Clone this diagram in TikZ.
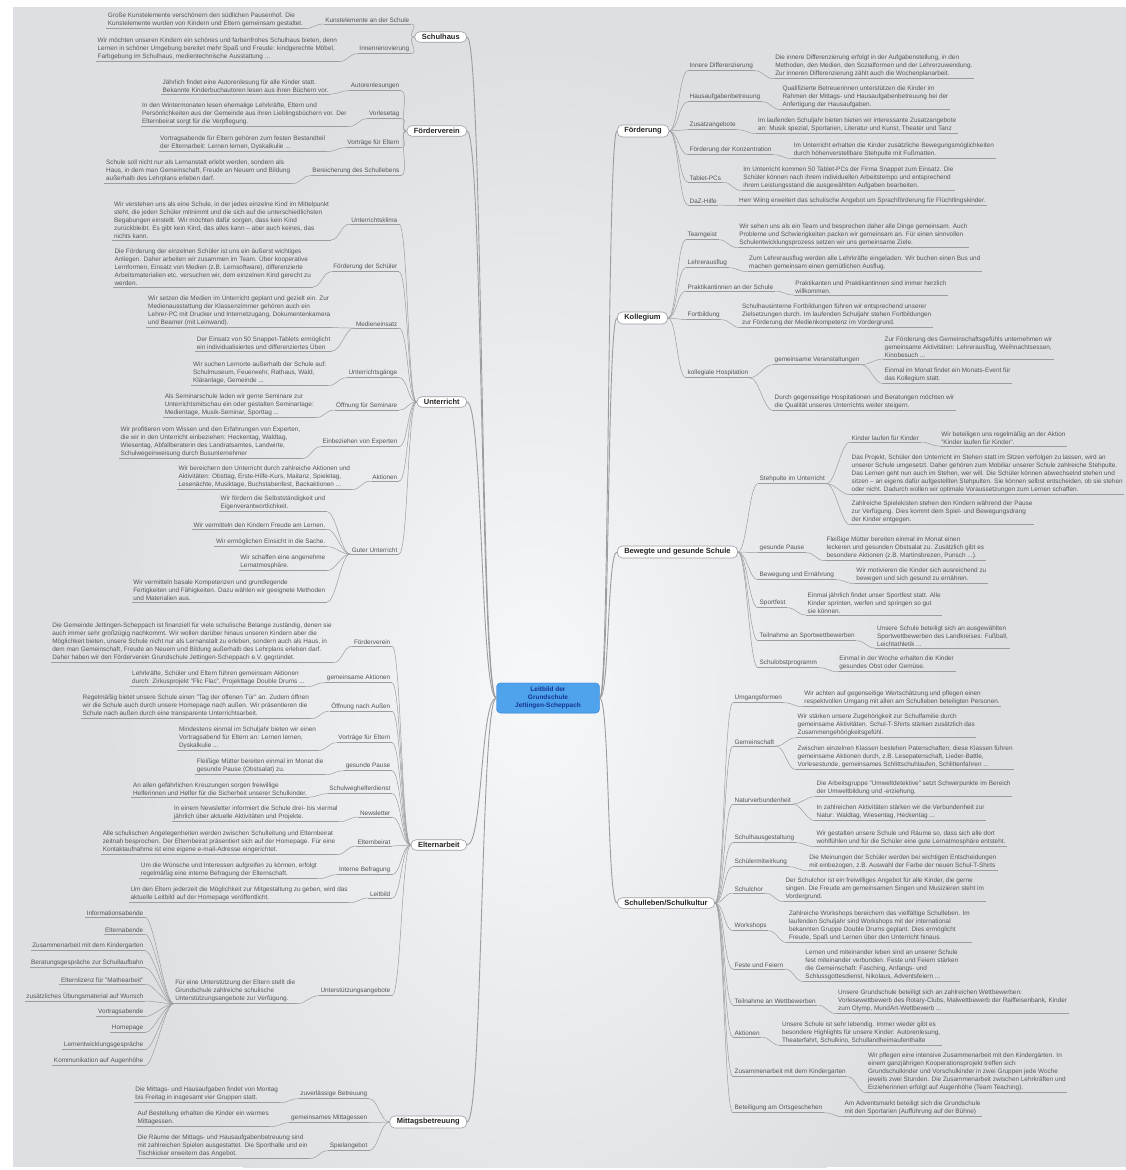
\documentclass[tikz,border=0pt]{standalone}
\usepackage{fontspec}
\setmainfont{Liberation Sans}
\usetikzlibrary{positioning}
\definecolor{bgC}{RGB}{221,223,227}
\definecolor{glowC}{RGB}{247,248,249}
\definecolor{lineC}{RGB}{155,157,161}
\definecolor{txtC}{RGB}{85,85,85}
\definecolor{leitC}{RGB}{78,163,236}
\definecolor{leitD}{RGB}{40,118,205}
\definecolor{leitT}{RGB}{22,52,150}
\begin{document}
\begin{tikzpicture}[x=1pt, y=-1pt,
  topic/.style={draw=lineC, fill=white, rounded corners=5pt, line width=0.6pt, text={black!85},
    font=\fontsize{7.5}{9}\selectfont\bfseries, inner xsep=7pt, inner ysep=2.5pt},
  leit/.style={draw=leitD, fill=leitC, rounded corners=4pt, text=leitT, align=center,
    font=\fontsize{6.5}{8}\selectfont\bfseries, minimum width=103pt, inner ysep=4pt},
  uline/.style={draw=lineC, line width=0.5pt},
  sub/.style={font=\fontsize{6.4}{8}\selectfont, text=txtC, inner sep=1.5pt, align=left,
    append after command={(\tikzlastnode.south west) edge[uline] (\tikzlastnode.south east)}},
  ll/.style={sub, anchor=east},
  rl/.style={sub, anchor=west},
  lcurve/.style={uline, to path={.. controls ([xshift=-9pt]\tikztostart) and ([xshift=9pt]\tikztotarget) .. (\tikztotarget)}},
  rcurve/.style={uline, to path={.. controls ([xshift=9pt]\tikztostart) and ([xshift=-9pt]\tikztotarget) .. (\tikztotarget)}},
  mainl/.style={draw=lineC, line width=0.9pt, to path={.. controls ([xshift=-16pt]\tikztostart) and ([xshift=16pt]\tikztotarget) .. (\tikztotarget)}},
  mainr/.style={draw=lineC, line width=0.9pt, to path={.. controls ([xshift=10pt]\tikztostart) and ([xshift=-10pt]\tikztotarget) .. (\tikztotarget)}}]
	\useasboundingbox (0,0) rectangle (1126,1170);
	\fill[white] (0,0) rectangle (1126,1170);
	\fill[bgC] (13,7) rectangle (1126,1167);
	\begin{scope}
		\clip (13,7) rectangle (1126,1167);
		\shade[inner color=glowC, outer color=bgC] (535,690) ellipse [x radius=430pt, y radius=650pt];
	\end{scope}
	
	\node[leit] (leit) at (548,698) {Leitbild der\\Grundschule\\Jettingen-Scheppach};
	
	\node[topic, anchor=east] (sh) at (467,37) {Schulhaus};
	\node[topic, anchor=east] (fv) at (467,131) {Förderverein};
	\node[topic, anchor=east] (ut) at (467,402) {Unterricht};
	\node[topic, anchor=east] (ea) at (467,845) {Elternarbeit};
	\node[topic, anchor=east] (mb) at (467,1122) {Mittagsbetreuung};
	\node[topic, anchor=west] (fd) at (617,131) {Förderung};
	\node[topic, anchor=west] (ko) at (617,318) {Kollegium};
	\node[topic, anchor=west] (bg) at (617,552) {Bewegte und gesunde Schule};
	\node[topic, anchor=west] (sl) at (617,903) {Schulleben/Schulkultur};
	
	% Schulhaus
	\node[ll] (sh1) at (411,20) {Kunstelemente an der Schule};
	\node[sub, left=19pt of sh1] (dsh1) {Große Kunstelemente verschönern den südlichen Pausenhof. Die\\Kunstelemente wurden von Kindern und Eltern gemeinsam gestaltet.};
	\node[ll] (sh2) at (411,49) {Innenrenovierung};
	\node[sub, left=19pt of sh2] (dsh2) {Wir möchten unseren Kindern ein schönes und farbenfrohes Schulhaus bieten, denn\\Lernen in schöner Umgebung bereitet mehr Spaß und Freude: kindgerechte Möbel,\\Farbgebung im Schulhaus, medientechnische Ausstattung ...};
	
	% Foerderverein
	\node[ll] (fv1) at (401,86) {Autorenlesungen};
	\node[sub, left=19pt of fv1] (dfv1) {Jährlich findet eine Autorenlesung für alle Kinder statt.\\Bekannte Kinderbuchautoren lesen aus ihren Büchern vor.};
	\node[ll] (fv2) at (401,114) {Vorlesetag};
	\node[sub, left=19pt of fv2] (dfv2) {In den Wintermonaten lesen ehemalige Lehrkräfte, Eltern und\\Persönlichkeiten aus der Gemeinde aus ihren Lieblingsbüchern vor. Der\\Elternbeirat sorgt für die Verpflegung.};
	\node[ll] (fv3) at (401,143) {Vorträge für Eltern};
	\node[sub, left=19pt of fv3] (dfv3) {Vortragsabende für Eltern gehören zum festen Bestandteil\\der Elternarbeit: Lernen lernen, Dyskalkulie ...};
	\node[ll] (fv4) at (401,171) {Bereicherung des Schullebens};
	\node[sub, left=19pt of fv4] (dfv4) {Schule soll nicht nur als Lernanstalt erlebt werden, sondern als\\Haus, in dem man Gemeinschaft, Freude an Neuem und Bildung\\außerhalb des Lehrplans erleben darf.};
	
	% Unterricht
	\node[ll] (ut1) at (399,220) {Unterrichtsklima};
	\node[sub, left=19pt of ut1] (dut1) {Wir verstehen uns als eine Schule, in der jedes einzelne Kind im Mittelpunkt\\steht, die jeden Schüler mitnimmt und die sich auf die unterschiedlichsten\\Begabungen einstellt. Wir möchten dafür sorgen, dass kein Kind\\zurückbleibt. Es gibt kein Kind, das alles kann – aber auch keines, das\\nichts kann.};
	\node[ll] (ut2) at (399,267) {Förderung der Schüler};
	\node[sub, left=19pt of ut2] (dut2) {Die Förderung der einzelnen Schüler ist uns ein äußerst wichtiges\\Anliegen. Daher arbeiten wir zusammen im Team. Über kooperative\\Lernformen, Einsatz von Medien (z.B. Lernsoftware), differenzierte\\Arbeitsmaterialien etc. versuchen wir, dem einzelnen Kind gerecht zu\\werden.};
	\node[ll] (ut3) at (399,324) {Medieneinsatz};
	\node[ll] (dut3a) at (332,311) {Wir setzen die Medien im Unterricht geplant und gezielt ein. Zur\\Medienausstattung der Klassenzimmer gehören auch ein\\Lehrer-PC mit Drucker und Internetzugang, Dokumentenkamera\\und Beamer (mit Leinwand).};
	\node[ll] (dut3b) at (332,343) {Der Einsatz von 50 Snappet-Tablets ermöglicht\\ein individualisiertes und differenziertes Üben};
	\node[ll] (ut4) at (399,373) {Unterrichtsgänge};
	\node[sub, left=19pt of ut4] (dut4) {Wir suchen Lernorte außerhalb der Schule auf:\\Schulmuseum, Feuerwehr, Rathaus, Wald,\\Kläranlage, Gemeinde ...};
	\node[ll] (ut5) at (399,405) {Öffnung für Seminare};
	\node[sub, left=19pt of ut5] (dut5) {Als Seminarschule laden wir gerne Seminare zur\\Unterrichtsmitschau ein oder gestalten Seminartage:\\Medientage, Musik-Seminar, Sporttag ...};
	\node[ll] (ut6) at (399,442) {Einbeziehen von Experten};
	\node[sub, left=19pt of ut6] (dut6) {Wir profitieren vom Wissen und den Erfahrungen von Experten,\\die wir in den Unterricht einbeziehen: Heckentag, Waldtag,\\Wiesentag, Abfallberaterin des Landratsamtes, Landwirte,\\Schulwegeinweisung durch Busunternehmer};
	\node[ll] (ut7) at (399,477) {Aktionen};
	\node[sub, left=19pt of ut7] (dut7) {Wir bereichern den Unterricht durch zahlreiche Aktionen und\\Aktivitäten: Obsttag, Erste-Hilfe-Kurs, Maitanz, Spieletag,\\Lesenächte, Musiktage, Buchstabenfest, Backaktionen ...};
	\node[ll] (ut8) at (399,550) {Guter Unterricht};
	\node[ll] (dut8a) at (327,503) {Wir fördern die Selbstständigkeit und\\Eigenverantwortlichkeit.};
	\node[ll] (dut8b) at (327,525) {Wir vermitteln den Kindern Freude am Lernen.};
	\node[ll] (dut8c) at (327,542) {Wir ermöglichen Einsicht in die Sache.};
	\node[ll] (dut8d) at (327,562) {Wir schaffen eine angenehme\\Lernatmosphäre.};
	\node[ll] (dut8e) at (327,590) {Wir vermitteln basale Kompetenzen und grundlegende\\Fertigkeiten und Fähigkeiten. Dazu wählen wir geeignete Methoden\\und Materialien aus.};
	
	% Elternarbeit
	\node[ll] (ea1) at (392,642) {Förderverein};
	\node[sub, left=19pt of ea1] (dea1) {Die Gemeinde Jettingen-Scheppach ist finanziell für viele schulische Belange zuständig, denen sie\\auch immer sehr großzügig nachkommt. Wir wollen darüber hinaus unseren Kindern aber die\\Möglichkeit bieten, unsere Schule nicht nur als Lernanstalt zu erleben, sondern auch als Haus, in\\dem man Gemeinschaft, Freude an Neuem und Bildung außerhalb des Lehrplans erleben darf.\\Daher haben wir den Förderverein Grundschule Jettingen-Scheppach e.V. gegründet.};
	\node[ll] (ea2) at (392,678) {gemeinsame Aktionen};
	\node[sub, left=19pt of ea2] (dea2) {Lehrkräfte, Schüler und Eltern führen gemeinsam Aktionen\\durch: Zirkusprojekt "Flic Flac", Projekttage Double Drums ...};
	\node[ll] (ea3) at (392,706) {Öffnung nach Außen};
	\node[sub, left=19pt of ea3] (dea3) {Regelmäßig bietet unsere Schule einen "Tag der offenen Tür" an. Zudem öffnen\\wir die Schule auch durch unsere Homepage nach außen. Wir präsentieren die\\Schule nach außen durch eine transparente Unterrichtsarbeit.};
	\node[ll] (ea4) at (392,738) {Vorträge für Eltern};
	\node[sub, left=19pt of ea4] (dea4) {Mindestens einmal im Schuljahr bieten wir einen\\Vortragsabend für Eltern an: Lernen lernen,\\Dyskalkulie ...};
	\node[ll] (ea5) at (392,766) {gesunde Pause};
	\node[sub, left=19pt of ea5] (dea5) {Fleißige Mütter bereiten einmal im Monat die\\gesunde Pause (Obstsalat) zu.};
	\node[ll] (ea6) at (392,789) {Schulweghelferdienst};
	\node[sub, left=19pt of ea6] (dea6) {An allen gefährlichen Kreuzungen sorgen freiwillige\\Helferinnen und Helfer für die Sicherheit unserer Schulkinder.};
	\node[ll] (ea7) at (392,813) {Newsletter};
	\node[sub, left=19pt of ea7] (dea7) {In einem Newsletter informiert die Schule drei- bis viermal\\jährlich über aktuelle Aktivitäten und Projekte.};
	\node[ll] (ea8) at (392,842) {Elternbeirat};
	\node[sub, left=19pt of ea8] (dea8) {Alle schulischen Angelegenheiten werden zwischen Schulleitung und Elternbeirat\\zeitnah besprochen. Der Elternbeirat präsentiert sich auf der Homepage. Für eine\\Kontaktaufnahme ist eine eigene e-mail-Adresse eingerichtet.};
	\node[ll] (ea9) at (392,870) {Interne Befragung};
	\node[sub, left=19pt of ea9] (dea9) {Um die Wünsche und Interessen aufgreifen zu können, erfolgt\\regelmäßig eine interne Befragung der Elternschaft.};
	\node[ll] (ea10) at (392,894) {Leitbild};
	\node[sub, left=19pt of ea10] (dea10) {Um den Eltern jederzeit die Möglichkeit zur Mitgestaltung zu geben, wird das\\aktuelle Leitbild auf der Homepage veröffentlicht.};
	\node[ll] (ea11) at (392,991) {Unterstützungsangebote};
	\node[sub, left=22pt of ea11] (dea11) {Für eine Unterstützung der Eltern stellt die\\Grundschule zahlreiche schulische\\Unterstützungsangebote zur Verfügung.};
	\node[ll] (ua1) at (145,913) {Informationsabende};
	\node[ll] (ua2) at (145,930) {Elternabende};
	\node[ll] (ua3) at (145,946) {Zusammenarbeit mit dem Kindergarten};
	\node[ll] (ua4) at (145,963) {Beratungsgespräche zur Schullaufbahn};
	\node[ll] (ua5) at (145,980) {Elternlizenz für "Mathearbeit"};
	\node[ll] (ua6) at (145,996) {zusätzliches Übungsmaterial auf Wunsch};
	\node[ll] (ua7) at (145,1012) {Vortragsabende};
	\node[ll] (ua8) at (145,1028) {Homepage};
	\node[ll] (ua9) at (145,1045) {Lernentwicklungsgespräche};
	\node[ll] (ua10) at (145,1061) {Kommunikation auf Augenhöhe};
	
	% Mittagsbetreuung
	\node[ll] (mb1) at (369,1094) {zuverlässige Betreuung};
	\node[sub, left=19pt of mb1] (dmb1) {Die Mittags- und Hausaufgaben findet von Montag\\bis Freitag in insgesamt vier Gruppen statt.};
	\node[ll] (mb2) at (369,1118) {gemeinsames Mittagessen};
	\node[sub, left=19pt of mb2] (dmb2) {Auf Bestellung erhalten die Kinder ein warmes\\Mittagessen.};
	\node[ll] (mb3) at (369,1146) {Spielangebot};
	\node[sub, left=19pt of mb3] (dmb3) {Die Räume der Mittags- und Hausaufgabenbetreuung sind\\mit zahlreichen Spielen ausgestattet. Die Sporthalle und ein\\Tischkicker erweitern das Angebot.};
	
	% Foerderung
	\node[rl] (fd1) at (688,66) {Innere Differenzierung};
	\node[sub, right=19pt of fd1] (dfd1) {Die innere Differenzierung erfolgt in der Aufgabenstellung, in den\\Methoden, den Medien, den Sozialformen und der Lehrerzuwendung.\\Zur inneren Differenzierung zählt auch die Wochenplanarbeit.};
	\node[rl] (fd2) at (688,97) {Hausaufgabenbetreuung};
	\node[sub, right=19pt of fd2] (dfd2) {Qualifizierte Betreuerinnen unterstützen die Kinder im\\Rahmen der Mittags- und Hausaufgabenbetreuung bei der\\Anfertigung der Hausaufgaben.};
	\node[rl] (fd3) at (688,125) {Zusatzangebote};
	\node[sub, right=19pt of fd3] (dfd3) {Im laufenden Schuljahr bieten bieten wir interessante Zusatzangebote\\an: Musik spezial, Sportarien, Literatur und Kunst, Theater und Tanz};
	\node[rl] (fd4) at (688,150) {Förderung der Konzentration};
	\node[sub, right=19pt of fd4] (dfd4) {Im Unterricht erhalten die Kinder zusätzliche Bewegungsmöglichkeiten\\durch höhenverstellbare Stehpulte mit Fußmatten.};
	\node[rl] (fd5) at (688,178) {Tablet-PCs};
	\node[sub, right=19pt of fd5] (dfd5) {Im Unterricht kommen 50 Tablet-PCs der Firma Snappet zum Einsatz. Die\\Schüler können nach ihrem individuellen Arbeitstempo und entsprechend\\ihrem Leistungsstand die ausgewählten Aufgaben bearbeiten.};
	\node[rl] (fd6) at (688,201) {DaZ-Hilfe};
	\node[sub, right=19pt of fd6] (dfd6) {Herr Wiing erweitert das schulische Angebot um Sprachförderung für Flüchtlingskinder.};
	
	% Kollegium
	\node[rl] (ko1) at (686,235) {Teamgeist};
	\node[sub, right=19pt of ko1] (dko1) {Wir sehen uns als ein Team und besprechen daher alle Dinge gemeinsam. Auch\\Probleme und Schwierigkeiten packen wir gemeinsam an. Für einen sinnvollen\\Schulentwicklungsprozess setzen wir uns gemeinsame Ziele.};
	\node[rl] (ko2) at (686,263) {Lehrerausflug};
	\node[sub, right=19pt of ko2] (dko2) {Zum Lehrerausflug werden alle Lehrkräfte eingeladen. Wir buchen einen Bus und\\machen gemeinsam einen gemütlichen Ausflug.};
	\node[rl] (ko3) at (686,287) {Praktikantinnen an der Schule};
	\node[sub, right=19pt of ko3] (dko3) {Praktikanten und Praktikantinnen sind immer herzlich\\willkommen.};
	\node[rl] (ko4) at (686,315) {Fortbildung};
	\node[sub, right=19pt of ko4] (dko4) {Schulhausinterne Fortbildungen führen wir entsprechend unserer\\Zielsetzungen durch. Im laufenden Schuljahr stehen Fortbildungen\\zur Förderung der Medienkompetenz im Vordergrund.};
	\node[rl] (ko5) at (686,373) {kollegiale Hospitation};
	\node[rl] (ko5a) at (773,360) {gemeinsame Veranstaltungen};
	\node[rl] (dko5a1) at (883,347) {Zur Förderung des Gemeinschaftsgefühls unternehmen wir\\gemeinsame Aktivitäten: Lehrerausflug, Weihnachtsessen,\\Kinobesuch ...};
	\node[rl] (dko5a2) at (883,375) {Einmal im Monat findet ein Monats-Event für\\das Kollegium statt.};
	\node[rl] (dko5b) at (773,402) {Durch gegenseitige Hospitationen und Beratungen möchten wir\\die Qualität unseres Unterrichts weiter steigern.};
	
	% Bewegte und gesunde Schule
	\node[rl] (bg1) at (758,479) {Stehpulte im Unterricht};
	\node[rl] (bg1a) at (850,438) {Kinder laufen für Kinder};
	\node[sub, right=19pt of bg1a] (dbg1a) {Wir beteiligen uns regelmäßig an der Aktion\\"Kinder laufen für Kinder".};
	\node[rl] (dbg1b) at (850,474) {Das Projekt, Schüler den Unterricht im Stehen statt im Sitzen verfolgen zu lassen, wird an\\unserer Schule umgesetzt. Daher gehören zum Mobiliar unserer Schule zahlreiche Stehpulte.\\Das Lernen geht nun auch im Stehen, wer will. Die Schüler können abwechselnd stehen und\\sitzen – an eigens dafür aufgestellten Stehpulten. Sie können selbst entscheiden, ob sie stehen\\oder nicht. Dadurch wollen wir optimale Voraussetzungen zum Lernen schaffen.};
	\node[rl] (dbg1c) at (850,512) {Zahlreiche Spielekisten stehen den Kindern während der Pause\\zur Verfügung. Dies kommt dem Spiel- und Bewegungsdrang\\der Kinder entgegen.};
	\node[rl] (bg2) at (758,548) {gesunde Pause};
	\node[sub, right=19pt of bg2] (dbg2) {Fleißige Mütter bereiten einmal im Monat einen\\leckeren und gesunden Obstsalat zu. Zusätzlich gibt es\\besondere Aktionen (z.B. Martinsbrezen, Punsch ...).};
	\node[rl] (bg3) at (758,575) {Bewegung und Ernährung};
	\node[sub, right=19pt of bg3] (dbg3) {Wir motivieren die Kinder sich ausreichend zu\\bewegen und sich gesund zu ernähren.};
	\node[rl] (bg4) at (758,603) {Sportfest};
	\node[sub, right=19pt of bg4] (dbg4) {Einmal jährlich findet unser Sportfest statt. Alle\\Kinder sprinten, werfen und springen so gut\\sie können.};
	\node[rl] (bg5) at (758,636) {Teilnahme an Sportwettbewerben};
	\node[sub, right=19pt of bg5] (dbg5) {Unsere Schule beteiligt sich an ausgewählten\\Sportwettbewerben des Landkreises: Fußball,\\Leichtathletik ...};
	\node[rl] (bg6) at (758,663) {Schulobstprogramm};
	\node[sub, right=19pt of bg6] (dbg6) {Einmal in der Woche erhalten die Kinder\\gesundes Obst oder Gemüse.};
	
	% Schulleben/Schulkultur
	\node[rl] (sl1) at (733,698) {Umgangsformen};
	\node[sub, right=19pt of sl1] (dsl1) {Wir achten auf gegenseitige Wertschätzung und pflegen einen\\respektvollen Umgang mit allen am Schulleben beteiligten Personen.};
	\node[rl] (sl2) at (733,742) {Gemeinschaft};
	\node[rl] (dsl2a) at (796,725) {Wir stärken unsere Zugehörigkeit zur Schulfamilie durch\\gemeinsame Aktivitäten. Schul-T-Shirts stärken zusätzlich das\\Zusammengehörigkeitsgefühl.};
	\node[rl] (dsl2b) at (796,757) {Zwischen einzelnen Klassen bestehen Patenschaften; diese Klassen führen\\gemeinsame Aktionen durch, z.B. Lesepatenschaft, Lieder-Battle,\\Vorlesestunde, gemeinsames Schlittschuhlaufen, Schlittenfahren ...};
	\node[rl] (sl3) at (733,800) {Naturverbundenheit};
	\node[rl] (dsl3a) at (815,788) {Die Arbeitsgruppe "Umweltdetektive" setzt Schwerpunkte im Bereich\\der Umweltbildung und -erziehung.};
	\node[rl] (dsl3b) at (815,812) {In zahlreichen Aktivitäten stärken wir die Verbundenheit zur\\Natur: Waldtag, Wiesentag, Heckentag ...};
	\node[rl] (sl4) at (733,838) {Schulhausgestaltung};
	\node[sub, right=19pt of sl4] (dsl4) {Wir gestalten unsere Schule und Räume so, dass sich alle dort\\wohlfühlen und für die Schüler eine gute Lernatmosphäre entsteht.};
	\node[rl] (sl5) at (733,862) {Schülermitwirkung};
	\node[sub, right=19pt of sl5] (dsl5) {Die Meinungen der Schüler werden bei wichtigen Entscheidungen\\mit einbezogen, z.B. Auswahl der Farbe der neuen Schul-T-Shirts};
	\node[rl] (sl6) at (733,889) {Schulchor};
	\node[sub, right=19pt of sl6] (dsl6) {Der Schulchor ist ein freiwilliges Angebot für alle Kinder, die gerne\\singen. Die Freude am gemeinsamen Singen und Musizieren steht im\\Vordergrund.};
	\node[rl] (sl7) at (733,926) {Workshops};
	\node[sub, right=19pt of sl7] (dsl7) {Zahlreiche Workshops bereichern das vielfältige Schulleben. Im\\laufenden Schuljahr sind Workshops mit der international\\bekannten Gruppe Double Drums geplant. Dies ermöglicht\\Freude, Spaß und Lernen über den Unterricht hinaus.};
	\node[rl] (sl8) at (733,965) {Feste und Feiern};
	\node[sub, right=19pt of sl8] (dsl8) {Lernen und miteinander leben sind an unserer Schule\\fest miteinander verbunden. Feste und Feiern stärken\\die Gemeinschaft: Fasching, Anfangs- und\\Schlussgottesdienst, Nikolaus, Adventsfeiern ...};
	\node[rl] (sl9) at (733,1001) {Teilnahme an Wettbewerben};
	\node[sub, right=19pt of sl9] (dsl9) {Unsere Grundschule beteiligt sich an zahlreichen Wettbewerben:\\Vorlesewettbewerb des Rotary-Clubs, Malwettbewerb der Raiffeisenbank, Kinder\\zum Olymp, MundArt-Wettbewerb ...};
	\node[rl] (sl10) at (733,1033) {Aktionen};
	\node[sub, right=19pt of sl10] (dsl10) {Unsere Schule ist sehr lebendig. Immer wieder gibt es\\besondere Highlights für unsere Kinder: Autorenlesung,\\Theaterfahrt, Schulkino, Schullandheimaufenthalte};
	\node[rl] (sl11) at (733,1072) {Zusammenarbeit mit dem Kindergarten};
	\node[sub, right=19pt of sl11] (dsl11) {Wir pflegen eine intensive Zusammenarbeit mit den Kindergärten. In\\einem ganzjährigen Kooperationsprojekt treffen sich\\Grundschulkinder und Vorschulkinder in zwei Gruppen jede Woche\\jeweils zwei Stunden. Die Zusammenarbeit zwischen Lehrkräften und\\Erzieherinnen erfolgt auf Augenhöhe (Team Teaching).};
	\node[rl] (sl12) at (733,1108) {Beteiligung am Ortsgeschehen};
	\node[sub, right=19pt of sl12] (dsl12) {Am Adventsmarkt beteiligt sich die Grundschule\\mit den Sportarien (Aufführung auf der Bühne)};
	
	\draw[mainl] (leit.west) to (sh.east);
	\draw[mainl] (leit.west) to (fv.east);
	\draw[mainl] (leit.west) to (ut.east);
	\draw[mainl] (leit.west) to (ea.east);
	\draw[mainl] (leit.west) to (mb.east);
	\draw[mainr] (leit.east) to (fd.west);
	\draw[mainr] (leit.east) to (ko.west);
	\draw[mainr] (leit.east) to (bg.west);
	\draw[mainr] (leit.east) to (sl.west);
	
	\draw[lcurve] (sh.west) to (sh1.south east);
	\draw[lcurve] (sh.west) to (sh2.south east);
	\draw[lcurve] (sh1.south west) to (dsh1.south east);
	\draw[lcurve] (sh2.south west) to (dsh2.south east);
	
	\draw[lcurve] (fv.west) to (fv1.south east);
	\draw[lcurve] (fv.west) to (fv2.south east);
	\draw[lcurve] (fv.west) to (fv3.south east);
	\draw[lcurve] (fv.west) to (fv4.south east);
	\draw[lcurve] (fv1.south west) to (dfv1.south east);
	\draw[lcurve] (fv2.south west) to (dfv2.south east);
	\draw[lcurve] (fv3.south west) to (dfv3.south east);
	\draw[lcurve] (fv4.south west) to (dfv4.south east);
	
	\draw[lcurve] (ut.west) to (ut1.south east);
	\draw[lcurve] (ut.west) to (ut2.south east);
	\draw[lcurve] (ut.west) to (ut3.south east);
	\draw[lcurve] (ut.west) to (ut4.south east);
	\draw[lcurve] (ut.west) to (ut5.south east);
	\draw[lcurve] (ut.west) to (ut6.south east);
	\draw[lcurve] (ut.west) to (ut7.south east);
	\draw[lcurve] (ut.west) to (ut8.south east);
	\draw[lcurve] (ut1.south west) to (dut1.south east);
	\draw[lcurve] (ut2.south west) to (dut2.south east);
	\draw[lcurve] (ut3.south west) to (dut3a.south east);
	\draw[lcurve] (ut3.south west) to (dut3b.south east);
	\draw[lcurve] (ut4.south west) to (dut4.south east);
	\draw[lcurve] (ut5.south west) to (dut5.south east);
	\draw[lcurve] (ut6.south west) to (dut6.south east);
	\draw[lcurve] (ut7.south west) to (dut7.south east);
	\draw[lcurve] (ut8.south west) to (dut8a.south east);
	\draw[lcurve] (ut8.south west) to (dut8b.south east);
	\draw[lcurve] (ut8.south west) to (dut8c.south east);
	\draw[lcurve] (ut8.south west) to (dut8d.south east);
	\draw[lcurve] (ut8.south west) to (dut8e.south east);
	
	\draw[lcurve] (ea.west) to (ea1.south east);
	\draw[lcurve] (ea.west) to (ea2.south east);
	\draw[lcurve] (ea.west) to (ea3.south east);
	\draw[lcurve] (ea.west) to (ea4.south east);
	\draw[lcurve] (ea.west) to (ea5.south east);
	\draw[lcurve] (ea.west) to (ea6.south east);
	\draw[lcurve] (ea.west) to (ea7.south east);
	\draw[lcurve] (ea.west) to (ea8.south east);
	\draw[lcurve] (ea.west) to (ea9.south east);
	\draw[lcurve] (ea.west) to (ea10.south east);
	\draw[lcurve] (ea.west) to (ea11.south east);
	\draw[lcurve] (ea1.south west) to (dea1.south east);
	\draw[lcurve] (ea2.south west) to (dea2.south east);
	\draw[lcurve] (ea3.south west) to (dea3.south east);
	\draw[lcurve] (ea4.south west) to (dea4.south east);
	\draw[lcurve] (ea5.south west) to (dea5.south east);
	\draw[lcurve] (ea6.south west) to (dea6.south east);
	\draw[lcurve] (ea7.south west) to (dea7.south east);
	\draw[lcurve] (ea8.south west) to (dea8.south east);
	\draw[lcurve] (ea9.south west) to (dea9.south east);
	\draw[lcurve] (ea10.south west) to (dea10.south east);
	\draw[lcurve] (ea11.south west) to (dea11.south east);
	\draw[lcurve] (dea11.south west) to (ua1.south east);
	\draw[lcurve] (dea11.south west) to (ua2.south east);
	\draw[lcurve] (dea11.south west) to (ua3.south east);
	\draw[lcurve] (dea11.south west) to (ua4.south east);
	\draw[lcurve] (dea11.south west) to (ua5.south east);
	\draw[lcurve] (dea11.south west) to (ua6.south east);
	\draw[lcurve] (dea11.south west) to (ua7.south east);
	\draw[lcurve] (dea11.south west) to (ua8.south east);
	\draw[lcurve] (dea11.south west) to (ua9.south east);
	\draw[lcurve] (dea11.south west) to (ua10.south east);
	
	\draw[lcurve] (mb.west) to (mb1.south east);
	\draw[lcurve] (mb.west) to (mb2.south east);
	\draw[lcurve] (mb.west) to (mb3.south east);
	\draw[lcurve] (mb1.south west) to (dmb1.south east);
	\draw[lcurve] (mb2.south west) to (dmb2.south east);
	\draw[lcurve] (mb3.south west) to (dmb3.south east);
	
	\draw[rcurve] (fd.east) to (fd1.south west);
	\draw[rcurve] (fd.east) to (fd2.south west);
	\draw[rcurve] (fd.east) to (fd3.south west);
	\draw[rcurve] (fd.east) to (fd4.south west);
	\draw[rcurve] (fd.east) to (fd5.south west);
	\draw[rcurve] (fd.east) to (fd6.south west);
	\draw[rcurve] (fd1.south east) to (dfd1.south west);
	\draw[rcurve] (fd2.south east) to (dfd2.south west);
	\draw[rcurve] (fd3.south east) to (dfd3.south west);
	\draw[rcurve] (fd4.south east) to (dfd4.south west);
	\draw[rcurve] (fd5.south east) to (dfd5.south west);
	\draw[rcurve] (fd6.south east) to (dfd6.south west);
	
	\draw[rcurve] (ko.east) to (ko1.south west);
	\draw[rcurve] (ko.east) to (ko2.south west);
	\draw[rcurve] (ko.east) to (ko3.south west);
	\draw[rcurve] (ko.east) to (ko4.south west);
	\draw[rcurve] (ko.east) to (ko5.south west);
	\draw[rcurve] (ko1.south east) to (dko1.south west);
	\draw[rcurve] (ko2.south east) to (dko2.south west);
	\draw[rcurve] (ko3.south east) to (dko3.south west);
	\draw[rcurve] (ko4.south east) to (dko4.south west);
	\draw[rcurve] (ko5.south east) to (ko5a.south west);
	\draw[rcurve] (ko5.south east) to (dko5b.south west);
	\draw[rcurve] (ko5a.south east) to (dko5a1.south west);
	\draw[rcurve] (ko5a.south east) to (dko5a2.south west);
	
	\draw[rcurve] (bg.east) to (bg1.south west);
	\draw[rcurve] (bg.east) to (bg2.south west);
	\draw[rcurve] (bg.east) to (bg3.south west);
	\draw[rcurve] (bg.east) to (bg4.south west);
	\draw[rcurve] (bg.east) to (bg5.south west);
	\draw[rcurve] (bg.east) to (bg6.south west);
	\draw[rcurve] (bg1.south east) to (bg1a.south west);
	\draw[rcurve] (bg1.south east) to (dbg1b.south west);
	\draw[rcurve] (bg1.south east) to (dbg1c.south west);
	\draw[rcurve] (bg1a.south east) to (dbg1a.south west);
	\draw[rcurve] (bg2.south east) to (dbg2.south west);
	\draw[rcurve] (bg3.south east) to (dbg3.south west);
	\draw[rcurve] (bg4.south east) to (dbg4.south west);
	\draw[rcurve] (bg5.south east) to (dbg5.south west);
	\draw[rcurve] (bg6.south east) to (dbg6.south west);
	
	\draw[rcurve] (sl.east) to (sl1.south west);
	\draw[rcurve] (sl.east) to (sl2.south west);
	\draw[rcurve] (sl.east) to (sl3.south west);
	\draw[rcurve] (sl.east) to (sl4.south west);
	\draw[rcurve] (sl.east) to (sl5.south west);
	\draw[rcurve] (sl.east) to (sl6.south west);
	\draw[rcurve] (sl.east) to (sl7.south west);
	\draw[rcurve] (sl.east) to (sl8.south west);
	\draw[rcurve] (sl.east) to (sl9.south west);
	\draw[rcurve] (sl.east) to (sl10.south west);
	\draw[rcurve] (sl.east) to (sl11.south west);
	\draw[rcurve] (sl.east) to (sl12.south west);
	\draw[rcurve] (sl1.south east) to (dsl1.south west);
	\draw[rcurve] (sl2.south east) to (dsl2a.south west);
	\draw[rcurve] (sl2.south east) to (dsl2b.south west);
	\draw[rcurve] (sl3.south east) to (dsl3a.south west);
	\draw[rcurve] (sl3.south east) to (dsl3b.south west);
	\draw[rcurve] (sl4.south east) to (dsl4.south west);
	\draw[rcurve] (sl5.south east) to (dsl5.south west);
	\draw[rcurve] (sl6.south east) to (dsl6.south west);
	\draw[rcurve] (sl7.south east) to (dsl7.south west);
	\draw[rcurve] (sl8.south east) to (dsl8.south west);
	\draw[rcurve] (sl9.south east) to (dsl9.south west);
	\draw[rcurve] (sl10.south east) to (dsl10.south west);
	\draw[rcurve] (sl11.south east) to (dsl11.south west);
	\draw[rcurve] (sl12.south east) to (dsl12.south west);
\end{tikzpicture}
\end{document}
